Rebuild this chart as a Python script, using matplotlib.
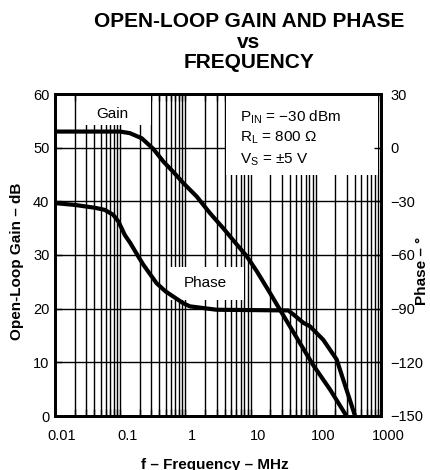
import matplotlib
matplotlib.use('Agg')
import matplotlib.pyplot as plt
from matplotlib.patches import Rectangle
from matplotlib.ticker import FixedLocator, NullFormatter
from matplotlib.transforms import ScaledTranslation

plt.rcParams['font.family'] = ['Liberation Sans', 'DejaVu Sans']
plt.rcParams['mathtext.fontset'] = 'custom'
plt.rcParams['mathtext.rm'] = 'Liberation Sans'
plt.rcParams['mathtext.it'] = 'Liberation Sans:italic'

# gain curve (MHz, dB)
gain_freq = [0.01, 0.1, 0.141, 0.214, 0.32, 0.46, 0.65, 0.93, 1.49, 2.38, 3.8,
             6.1, 8.7, 12.4, 19.9, 28.2, 57, 91, 166, 295]
gain_db = [53, 53, 52.7, 51.75, 49.8, 47.4, 45.5, 43.4, 40.9, 37.8, 35.0,
           32.0, 29.8, 27.0, 22.9, 19.8, 13.6, 9.5, 4.9, 0]

# phase curve (MHz, degrees)
phase_freq = [0.01, 0.02, 0.041, 0.058, 0.078, 0.094, 0.118, 0.141, 0.19, 0.226,
              0.36, 0.49, 0.65, 0.93, 1.17, 3.0, 38, 48, 65, 81, 130, 209, 264,
              333, 400]
phase_deg = [-31, -32, -33.6, -34.8, -37.5, -41.3, -48.9, -53, -60.9, -65.4,
             -75.7, -80.2, -83.2, -87, -88.7, -90.6, -91, -94, -98, -99.8, -107.4,
             -118.4, -129.8, -141, -150]

freq_ticks = [0.01, 0.1, 1, 10, 100, 1000]
freq_labels = ['0.01', '0.1', '1', '10', '100', '1000']
gain_ticks = [0, 10, 20, 30, 40, 50, 60]
phase_ticks = [-150, -120, -90, -60, -30, 0, 30]

fig = plt.figure(figsize=(4.31, 4.70), dpi=100)
ax = fig.add_axes([55/431, 1-416/470, 326/431, 322/470])
ax.set_xscale('log')
ax.set_xlim(0.01, 1000)
ax.set_ylim(0, 60)

# grid drawn by hand so the white boxes can hide it
minor = [k * 10.0**d for d in range(-2, 3) for k in range(1, 10)]
for f in minor[1:]:
    ax.axvline(f, color='k', lw=1.0, zorder=1)
for g in gain_ticks[1:-1]:
    ax.axhline(g, color='k', lw=1.0, zorder=1)

# white label boxes
for x0, y0, w, h in [(0.067, 0.904, 0.227, 0.096),
                     (0.35, 0.36, 0.23, 0.103),
                     (0.525, 0.748, 0.466, 0.252)]:
    ax.add_patch(Rectangle((x0, y0), w, h, transform=ax.transAxes,
                           fc='white', ec='none', zorder=2))

ax.text(0.175, 0.938, 'Gain', transform=ax.transAxes, ha='center', va='center',
        fontsize=11, zorder=3)
ax.text(0.46, 0.413, 'Phase', transform=ax.transAxes, ha='center', va='center',
        fontsize=11, zorder=3)
ax.text(0.567, 0.929, r'P$_{\mathrm{IN}}$ = −30 dBm', transform=ax.transAxes,
        ha='left', va='center', fontsize=11, zorder=3)
ax.text(0.567, 0.863, r'R$_{\mathrm{L}}$ = 800 Ω', transform=ax.transAxes,
        ha='left', va='center', fontsize=11, zorder=3)
ax.text(0.567, 0.795, r'V$_{\mathrm{S}}$ = ±5 V', transform=ax.transAxes,
        ha='left', va='center', fontsize=11, zorder=3)

ax.plot(gain_freq, gain_db, color='k', lw=3, solid_joinstyle='round', zorder=4)

ax.set_xticks(freq_ticks)
ax.set_xticklabels(freq_labels)
ax.xaxis.set_minor_locator(FixedLocator(minor))
ax.xaxis.set_minor_formatter(NullFormatter())
ax.set_yticks(gain_ticks)
ax.tick_params(which='both', direction='in', top=True, length=5, width=1,
               labelsize=10.5)
ax.tick_params(axis='x', pad=9)
ax.tick_params(axis='y', pad=4)
for lbl in ax.get_xticklabels():
    lbl.set_transform(lbl.get_transform() + ScaledTranslation(0.07, 0, fig.dpi_scale_trans))

ax2 = ax.twinx()
ax2.set_ylim(-150, 30)
ax2.set_yticks(phase_ticks)
ax2.tick_params(direction='in', length=5, width=1, pad=7, labelsize=10.5)
ax2.plot(phase_freq, phase_deg, color='k', lw=3, solid_joinstyle='round', zorder=4)

for a in (ax, ax2):
    for s in a.spines.values():
        s.set_linewidth(2)

fig.text(249/431, 1-27/470, 'OPEN-LOOP GAIN AND PHASE', ha='center', va='baseline',
         fontsize=15, weight='bold')
fig.text(249/431, 1-47.5/470, 'vs', ha='center', va='baseline',
         fontsize=15, weight='bold')
fig.text(249/431, 1-68/470, 'FREQUENCY', ha='center', va='baseline',
         fontsize=15, weight='bold')

fig.text(215/431, 1-468.5/470, 'f – Frequency – MHz', ha='center', va='baseline',
         fontsize=11, weight='bold')
fig.text(17/431, 1-261/470, 'Open-Loop Gain – dB', rotation=90, ha='center',
         va='center', fontsize=11, weight='bold')
fig.text(422/431, 1-271/470, 'Phase – °', rotation=90, ha='center',
         va='center', fontsize=11, weight='bold')

fig.savefig('out.png', dpi=100)
